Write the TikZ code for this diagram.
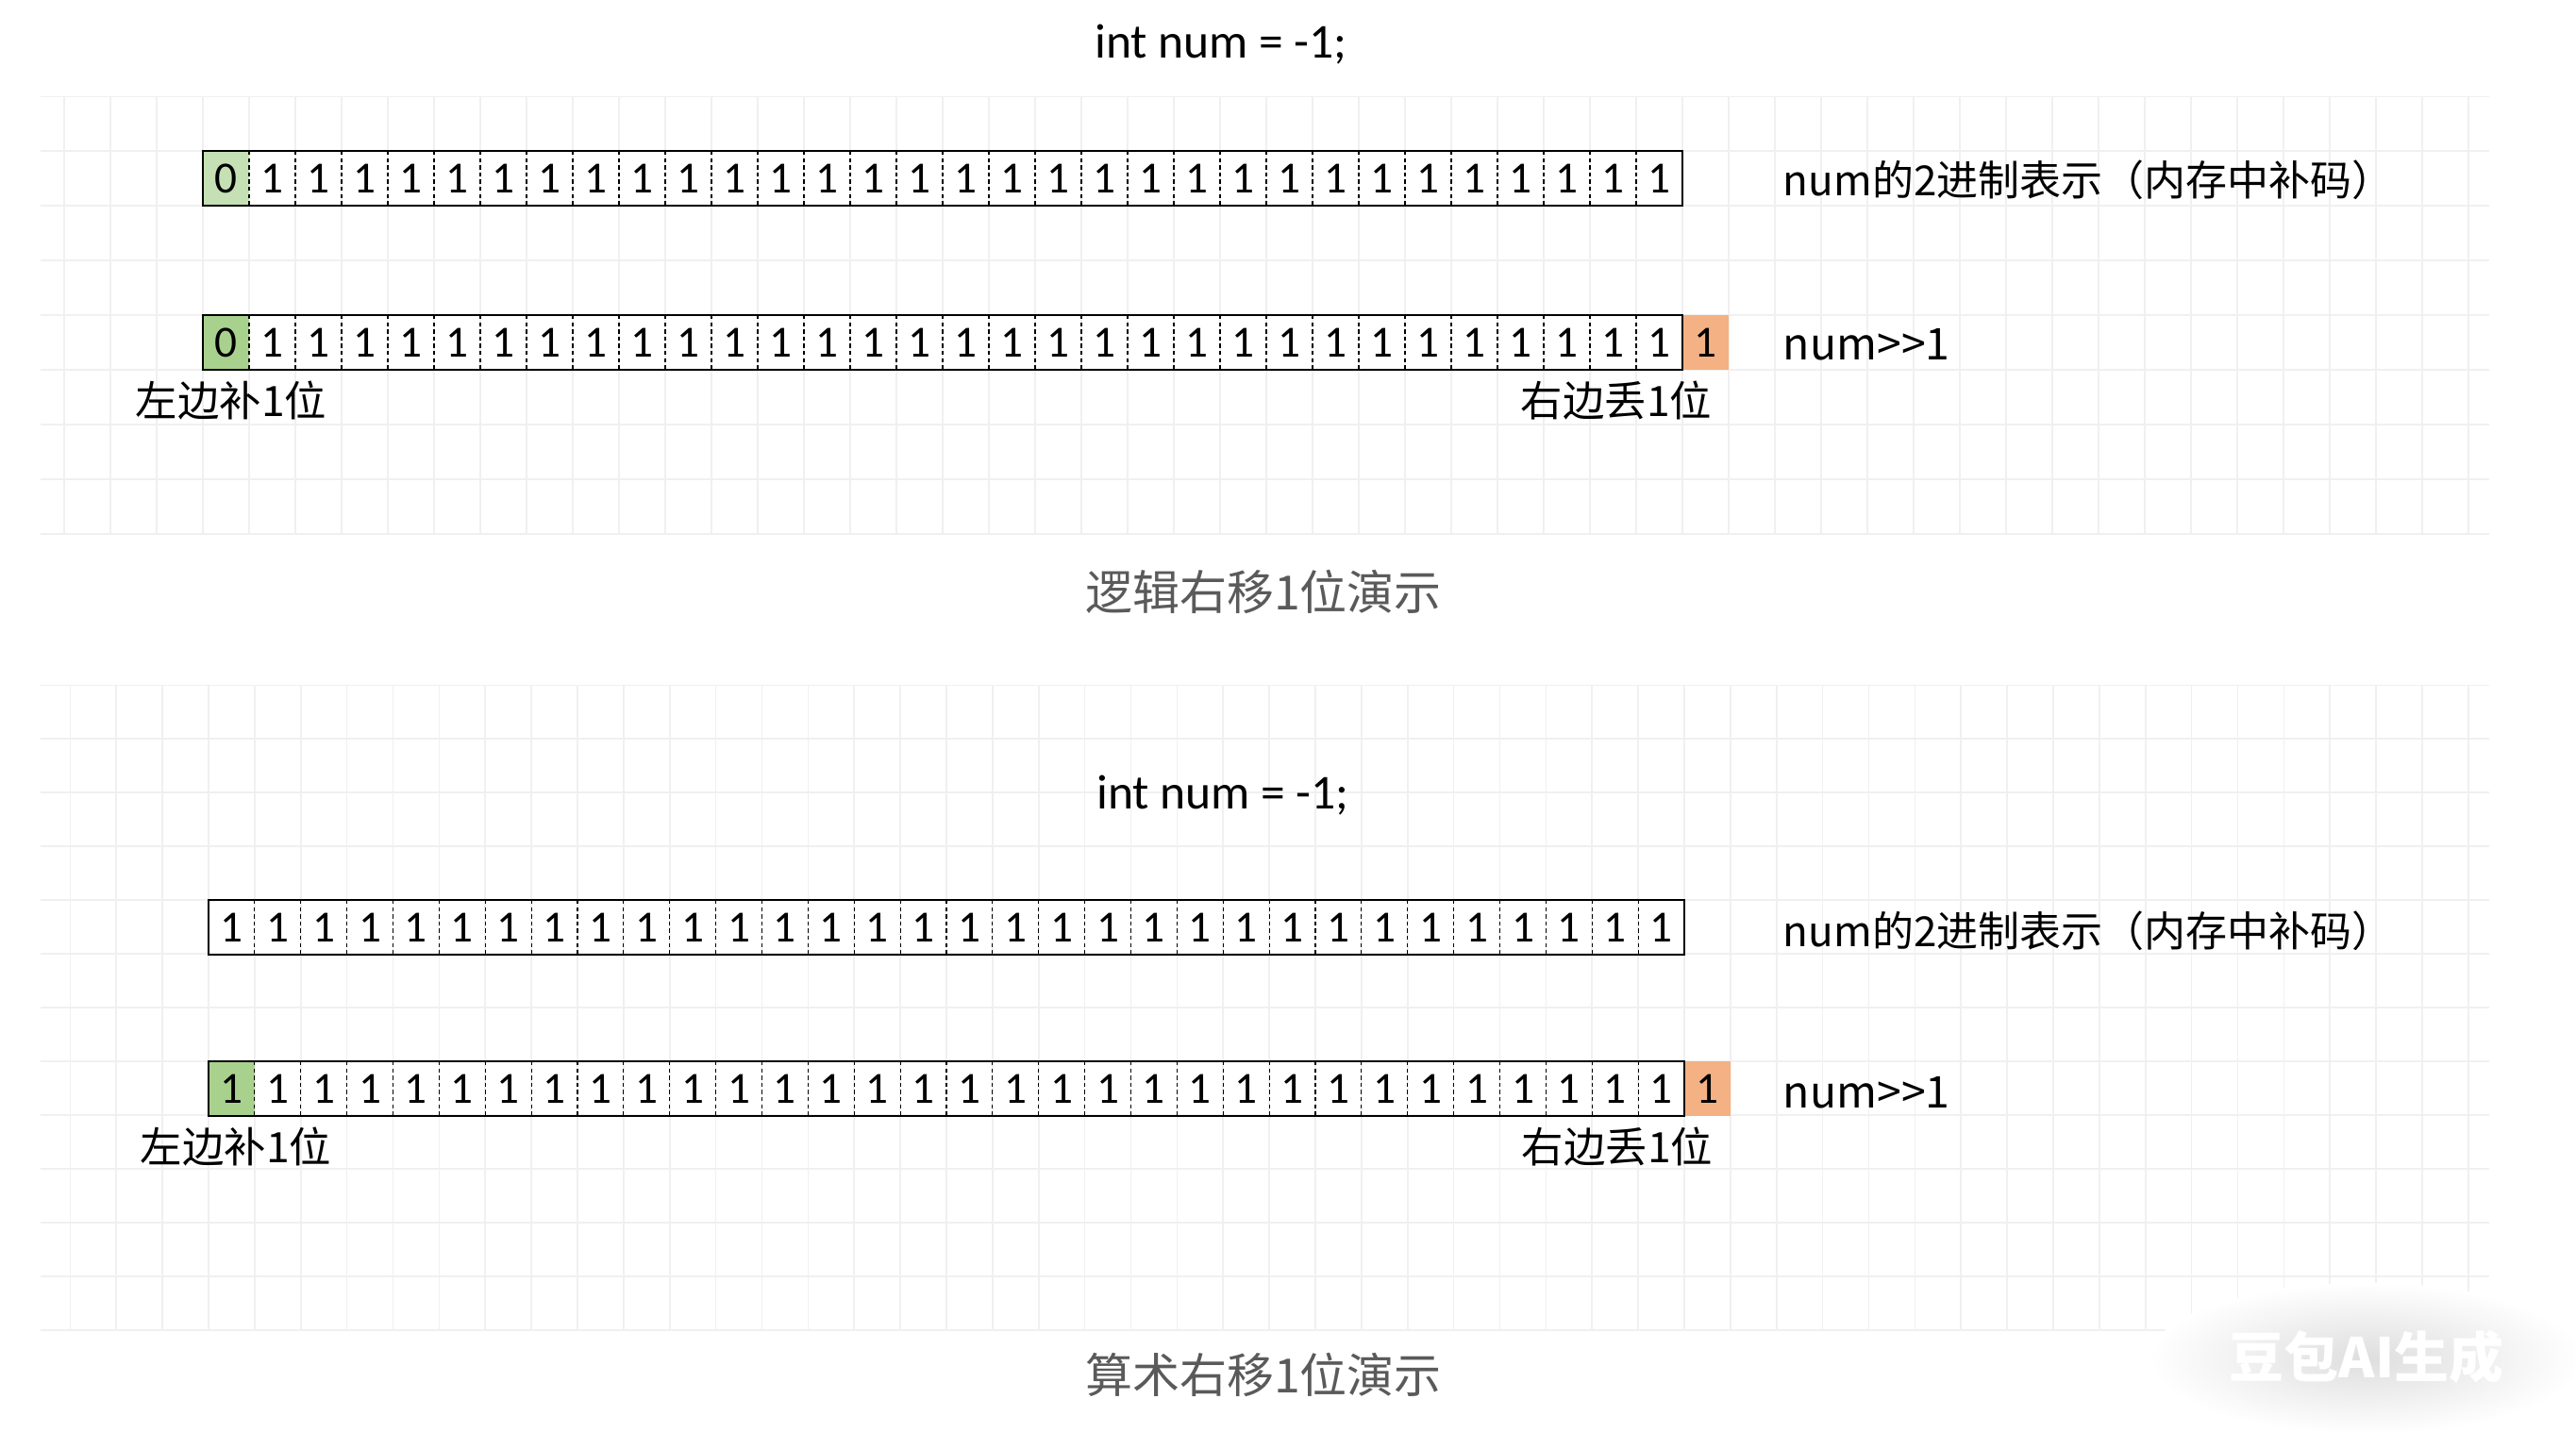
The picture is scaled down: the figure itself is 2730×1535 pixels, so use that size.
\documentclass[tikz,border=0pt]{standalone}
\usepackage{fontspec}
\setmainfont{Carlito}
\newfontfamily\cjk{Noto Sans CJK SC}
\newfontfamily\lat{Carlito}
\definecolor{gridc}{HTML}{F0F0F0}
\definecolor{greenA}{HTML}{C5E0B4}
\definecolor{greenB}{HTML}{A9D18E}
\definecolor{orangeA}{HTML}{F4B183}
\definecolor{capgray}{HTML}{5A5A5A}
\begin{document}
\begin{tikzpicture}[x=0.25pt,y=-0.25pt,
  gridline/.style={draw=gridc, line width=0.4pt},
  sepline/.style={draw=black, line width=0.3pt, dash pattern=on 1.1pt off 0.8pt},
  boxline/.style={draw=black, line width=0.6pt},
  digit/.style={font=\lat\fontsize{11.8}{13}\selectfont, inner sep=0pt, anchor=center},
  titletext/.style={font=\lat\fontsize{12.9}{15}\selectfont, inner sep=0pt},
  lbl/.style={font=\cjk\fontsize{11.0}{13}\selectfont, inner sep=0pt, anchor=west},
  shortlbl/.style={font=\cjk\fontsize{11.6}{13}\selectfont, inner sep=0pt, anchor=west},
  sidelbl/.style={font=\cjk\fontsize{11.1}{13}\selectfont, inner sep=0pt, anchor=west},
  captext/.style={font=\cjk\fontsize{12.5}{15}\selectfont, text=capgray, inner sep=0pt}]
\useasboundingbox (0,0) rectangle (2730,1535);
\fill[white] (0,0) rectangle (2730,1535);

% ---------- grids ----------
\begin{scope}
  \clip (43,102) rectangle (2638,566);
  \foreach \k in {-4,...,50} \draw[gridline] ({215+49*\k},102) -- ({215+49*\k},566);
  \foreach \k in {0,...,8} \draw[gridline] (43,{102+58*\k}) -- (2638,{102+58*\k});
\end{scope}
\begin{scope}
  \clip (43,726) rectangle (2638,1410);
  \foreach \k in {-4,...,50} \draw[gridline] ({221+48.875*\k},726) -- ({221+48.875*\k},1410);
  \foreach \k in {0,...,12} \draw[gridline] (43,{726+57*\k}) -- (2638,{726+57*\k});
\end{scope}

% ---------- logical shift ----------
\node[titletext] (t1) at (1294,47) {int num = -1;};

% row A
\fill[greenA] (215,160) rectangle (264,218);
\foreach \i in {1,...,31} \draw[sepline] ({215+49*\i},160) -- ({215+49*\i},218);
\draw[boxline] (215,160) rectangle (1783,218);
\node[digit] (a0) at (239.5,189) {0};
\foreach \i in {1,...,31} \node[digit] (a\i) at ({239.5+49*\i},189) {1};
\node[lbl] (la) at (1889,191) {num的2进制表示（内存中补码）};

% row B
\fill[greenB] (215,334) rectangle (264,392);
\fill[orangeA] (1783,334) rectangle (1832,392);
\foreach \i in {1,...,31} \draw[sepline] ({215+49*\i},334) -- ({215+49*\i},392);
\draw[boxline] (215,334) rectangle (1783,392);
\node[digit] (b0) at (239.5,363) {0};
\foreach \i in {1,...,31} \node[digit] (b\i) at ({239.5+49*\i},363) {1};
\node[digit] (bx) at (1807.5,363) {1};
\node[shortlbl] (lb) at (1889,365) {num>>1};
\node[sidelbl] (bl) at (143,424) {左边补1位};
\node[sidelbl] (br) at (1611,424) {右边丢1位};

\node[captext] (c1) at (1339,627) {逻辑右移1位演示};

% ---------- arithmetic shift ----------
\node[titletext] (t2) at (1296,843) {int num = -1;};

% row C
\foreach \i in {1,...,31} \draw[sepline] ({221+48.875*\i},954) -- ({221+48.875*\i},1012);
\draw[boxline] (221,954) rectangle (1785,1012);
\foreach \i in {0,...,31} \node[digit] (c\i) at ({245.44+48.875*\i},983) {1};
\node[lbl] (lc) at (1889,987) {num的2进制表示（内存中补码）};

% row D
\fill[greenB] (221,1125) rectangle (270,1183);
\fill[orangeA] (1785,1125) rectangle (1834,1183);
\foreach \i in {1,...,31} \draw[sepline] ({221+48.875*\i},1125) -- ({221+48.875*\i},1183);
\draw[boxline] (221,1125) rectangle (1785,1183);
\foreach \i in {0,...,31} \node[digit] (d\i) at ({245.44+48.875*\i},1154) {1};
\node[digit] (dx) at (1809.5,1154) {1};
\node[shortlbl] (ld) at (1889,1158) {num>>1};
\node[sidelbl] (dl) at (148,1215) {左边补1位};
\node[sidelbl] (dr) at (1612,1215) {右边丢1位};

\node[captext] (c2) at (1339,1457) {算术右移1位演示};

% ---------- watermark ----------
\shade[inner color=black!13, outer color=white] (2508,1440) ellipse [x radius=230, y radius=80];
\node[font=\cjk\fontsize{14.5}{16}\selectfont\bfseries, text=white, inner sep=0pt] (wm) at (2508,1438) {豆包AI生成};
\end{tikzpicture}
\end{document}
